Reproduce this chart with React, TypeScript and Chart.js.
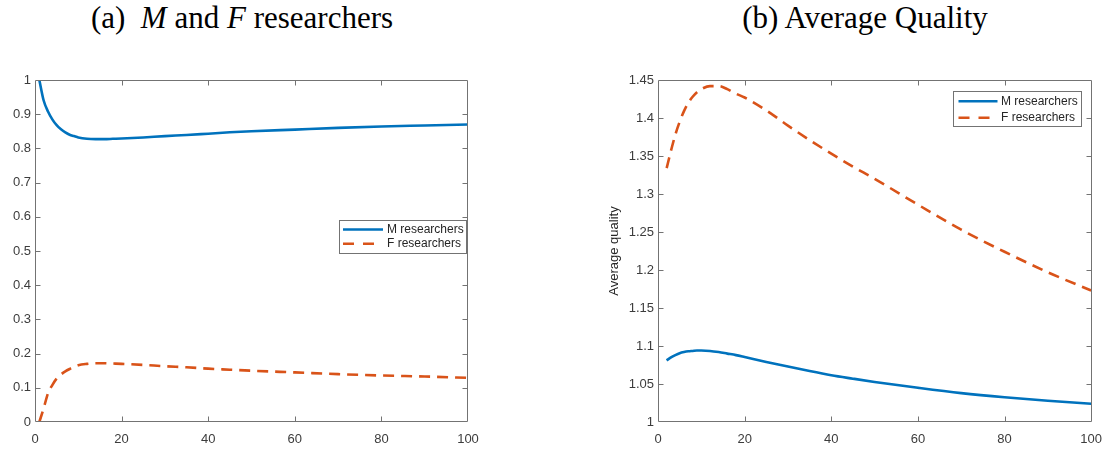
import React, { useEffect, useRef } from 'react';
import { Chart, registerables } from 'chart.js';

Chart.register(...registerables);

// ---------- data: panel (a) ----------
const xLeft = [1, 2, 3, 4, 5, 6, 7, 8, 9, 10, 12, 14, 16, 18, 20, 25, 30, 35, 40, 45, 50, 60, 70, 80, 90, 100];
const mLeft = [1.0, 0.94, 0.908, 0.885, 0.868, 0.856, 0.847, 0.84, 0.836, 0.832, 0.828, 0.827, 0.827, 0.828, 0.829, 0.832, 0.836, 0.839, 0.843, 0.847, 0.85, 0.855, 0.86, 0.864, 0.867, 0.87];
const fLeft = [0.0, 0.04, 0.084, 0.108, 0.127, 0.139, 0.148, 0.155, 0.161, 0.166, 0.17, 0.172, 0.172, 0.171, 0.17, 0.167, 0.163, 0.16, 0.156, 0.153, 0.15, 0.145, 0.14, 0.136, 0.133, 0.129];
const xTicksLeft = [0, 20, 40, 60, 80, 100];
const xTickLabelsLeft = ['0', '20', '40', '60', '80', '100'];
const yTicksLeft = [0, 0.1, 0.2, 0.3, 0.4, 0.5, 0.6, 0.7, 0.8, 0.9, 1];
const yTickLabelsLeft = ['0', '0.1', '0.2', '0.3', '0.4', '0.5', '0.6', '0.7', '0.8', '0.9', '1'];

// ---------- data: panel (b) ----------
const xRight = [2, 3, 4, 5, 6, 7, 8, 9, 10, 12, 14, 16, 18, 20, 25, 30, 35, 40, 45, 50, 60, 70, 80, 90, 100];
const mRight = [1.081, 1.085, 1.088, 1.0905, 1.092, 1.093, 1.0935, 1.094, 1.094, 1.0935, 1.092, 1.09, 1.088, 1.0855, 1.079, 1.073, 1.067, 1.0615, 1.057, 1.0527, 1.045, 1.038, 1.0325, 1.028, 1.024];
const fRight = [1.334, 1.357, 1.378, 1.395, 1.409, 1.42, 1.428, 1.434, 1.438, 1.442, 1.442, 1.438, 1.432, 1.427, 1.41, 1.39, 1.371, 1.353, 1.336, 1.32, 1.286, 1.253, 1.224, 1.197, 1.173];
const xTicksRight = [0, 20, 40, 60, 80, 100];
const xTickLabelsRight = ['0', '20', '40', '60', '80', '100'];
const yTicksRight = [1, 1.05, 1.1, 1.15, 1.2, 1.25, 1.3, 1.35, 1.4, 1.45];
const yTickLabelsRight = ['1', '1.05', '1.1', '1.15', '1.2', '1.25', '1.3', '1.35', '1.4', '1.45'];

const seriesLabels = ['M researchers', 'F researchers'];

// ---------- styles ----------
const BLUE = '#0072BD';
const ORANGE = '#D95319';
const AXIS_COLOR = '#737373';
const TICK_TEXT = '#3c3c3c';
const SANS = '"Liberation Sans", Arial, Helvetica, sans-serif';

const framePlugin = {
  id: 'frame',
  afterDraw(chart: any) {
    const { ctx, chartArea: a, scales } = chart;
    const L = Math.floor(a.left) + 0.5;
    const R = Math.ceil(a.right) - 0.5;
    const T = Math.floor(a.top) + 0.5;
    const B = Math.ceil(a.bottom) - 0.5;
    const len = 5;
    ctx.save();
    ctx.setLineDash([]);
    ctx.strokeStyle = AXIS_COLOR;
    ctx.lineWidth = 1;
    ctx.beginPath();
    ctx.rect(L, T, R - L, B - T);
    ctx.stroke();
    ctx.beginPath();
    scales.x.ticks.forEach((t: any) => {
      const p = Math.round(scales.x.getPixelForValue(t.value)) + 0.5;
      if (p - L < 2 || R - p < 2) return;
      ctx.moveTo(p, B); ctx.lineTo(p, B - len);
      ctx.moveTo(p, T); ctx.lineTo(p, T + len);
    });
    scales.y.ticks.forEach((t: any) => {
      const p = Math.round(scales.y.getPixelForValue(t.value)) + 0.5;
      if (p - T < 2 || B - p < 2) return;
      ctx.moveTo(L, p); ctx.lineTo(L + len, p);
      ctx.moveTo(R, p); ctx.lineTo(R - len, p);
    });
    ctx.stroke();
    ctx.restore();
  },
};

const legendPlugin = {
  id: 'boxLegend',
  afterDraw(chart: any, _args: any, opts: any) {
    if (!opts || !opts.show) return;
    const { ctx, chartArea: a } = chart;
    const w = opts.width;
    const h = opts.height;
    const x0 = Math.round(a.right - opts.rightInset - w) + 0.5;
    const y0 = Math.round(a.top + opts.top) + 0.5;
    ctx.save();
    ctx.setLineDash([]);
    ctx.fillStyle = '#ffffff';
    ctx.fillRect(x0, y0, w, h);
    ctx.strokeStyle = AXIS_COLOR;
    ctx.lineWidth = 1;
    ctx.strokeRect(x0, y0, w, h);
    const rows = [opts.row1, opts.row2];
    chart.data.datasets.forEach((ds: any, i: number) => {
      const y = y0 + rows[i];
      ctx.beginPath();
      ctx.strokeStyle = ds.borderColor;
      ctx.lineWidth = ds.borderWidth;
      ctx.setLineDash(i === 1 ? [11, 9] : []);
      ctx.moveTo(x0 + opts.lineStart, y);
      ctx.lineTo(x0 + opts.lineEnd, y);
      ctx.stroke();
      ctx.setLineDash([]);
      ctx.fillStyle = '#262626';
      ctx.font = '12px ' + SANS;
      ctx.textBaseline = 'middle';
      ctx.textAlign = 'left';
      ctx.fillText(ds.label, x0 + opts.textStart, y);
    });
    ctx.restore();
  },
};

type PanelProps = {
  xs: number[];
  m: number[];
  f: number[];
  xTicks: number[];
  xTickLabels: string[];
  yTicks: number[];
  yTickLabels: string[];
  yTitle?: string;
  axisWidth: number;
  padRight: number;
  legend: any;
  style: React.CSSProperties;
  width: number;
  height: number;
};

function Panel(props: PanelProps) {
  const ref = useRef<HTMLCanvasElement | null>(null);
  useEffect(() => {
    if (!ref.current) return;
    const pts = (ys: number[]) => props.xs.map((x, i) => ({ x, y: ys[i] }));
    const chart = new Chart(ref.current, {
      type: 'line',
      data: {
        datasets: [
          {
            label: seriesLabels[0],
            data: pts(props.m),
            borderColor: BLUE,
            backgroundColor: BLUE,
            borderWidth: 2.6,
            pointRadius: 0,
            cubicInterpolationMode: 'monotone',
            fill: false,
          },
          {
            label: seriesLabels[1],
            data: pts(props.f),
            borderColor: ORANGE,
            backgroundColor: ORANGE,
            borderWidth: 2.6,
            borderDash: [11, 7],
            borderCapStyle: 'butt',
            pointRadius: 0,
            cubicInterpolationMode: 'monotone',
            fill: false,
          },
        ],
      },
      options: {
        animation: false,
        responsive: false,
        maintainAspectRatio: false,
        layout: { padding: { left: 0, top: 20, right: props.padRight, bottom: 0 } },
        plugins: {
          legend: { display: false },
          tooltip: { enabled: false },
          boxLegend: props.legend,
        } as any,
        scales: {
          x: {
            type: 'linear',
            min: props.xTicks[0],
            max: props.xTicks[props.xTicks.length - 1],
            grid: { display: false, drawTicks: false },
            border: { display: false },
            afterBuildTicks: (s: any) => {
              s.ticks = props.xTicks.map((v) => ({ value: v }));
            },
            afterFit: (s: any) => {
              s.height = 28;
            },
            ticks: {
              padding: 10,
              color: TICK_TEXT,
              font: { family: SANS, size: 13 },
              maxRotation: 0,
              autoSkip: false,
              callback: (_v: any, i: number) => props.xTickLabels[i],
            },
          },
          y: {
            type: 'linear',
            min: props.yTicks[0],
            max: props.yTicks[props.yTicks.length - 1],
            grid: { display: false, drawTicks: false },
            border: { display: false },
            afterBuildTicks: (s: any) => {
              s.ticks = props.yTicks.map((v) => ({ value: v }));
            },
            afterFit: (s: any) => {
              s.width = props.axisWidth;
            },
            title: props.yTitle
              ? {
                  display: true,
                  text: props.yTitle,
                  color: '#262626',
                  font: { family: SANS, size: 13 },
                  padding: { top: 51, bottom: 0 },
                }
              : { display: false },
            ticks: {
              padding: 4,
              color: TICK_TEXT,
              font: { family: SANS, size: 13 },
              autoSkip: false,
              callback: (_v: any, i: number) => props.yTickLabels[i],
            },
          },
        },
      } as any,
      plugins: [framePlugin, legendPlugin],
    });
    return () => chart.destroy();
  }, []);
  return (
    <canvas
      ref={ref}
      width={props.width}
      height={props.height}
      style={{ position: 'absolute', width: props.width, height: props.height, ...props.style }}
    />
  );
}

const titleStyle: React.CSSProperties = {
  position: 'absolute',
  top: 0,
  transform: 'translateX(-50%)',
  whiteSpace: 'nowrap',
  fontFamily: '"Liberation Serif", "Times New Roman", serif',
  fontSize: 31,
  lineHeight: '36px',
  color: '#000',
};

export default function App() {
  useEffect(() => {
    document.body.style.margin = '0';
  }, []);
  return (
    <div style={{ position: 'relative', width: 1112, height: 450, background: '#fff', overflow: 'hidden' }}>
      <div style={{ ...titleStyle, left: 242 }}>
        (a)&nbsp; <i>M</i> and <i>F</i> researchers
      </div>
      <div style={{ ...titleStyle, left: 865 }}>(b) Average Quality</div>
      <Panel
        xs={xLeft}
        m={mLeft}
        f={fLeft}
        xTicks={xTicksLeft}
        xTickLabels={xTickLabelsLeft}
        yTicks={yTicksLeft}
        yTickLabels={yTickLabelsLeft}
        axisWidth={35}
        padRight={88}
        legend={{ show: true, width: 127, height: 33, rightInset: 2, top: 140, row1: 9, row2: 23.3, lineStart: 3.5, lineEnd: 43.5, textStart: 47.5 }}
        style={{ left: 0, top: 60 }}
        width={556}
        height={390}
      />
      <Panel
        xs={xRight}
        m={mRight}
        f={fRight}
        xTicks={xTicksRight}
        xTickLabels={xTickLabelsRight}
        yTicks={yTicksRight}
        yTickLabels={yTickLabelsRight}
        yTitle="Average quality"
        axisWidth={102}
        padRight={19}
        legend={{ show: true, width: 128, height: 35, rightInset: 10, top: 11, row1: 9.7, row2: 26.3, lineStart: 5, lineEnd: 44, textStart: 47.5 }}
        style={{ left: 556, top: 60 }}
        width={556}
        height={390}
      />
    </div>
  );
}
